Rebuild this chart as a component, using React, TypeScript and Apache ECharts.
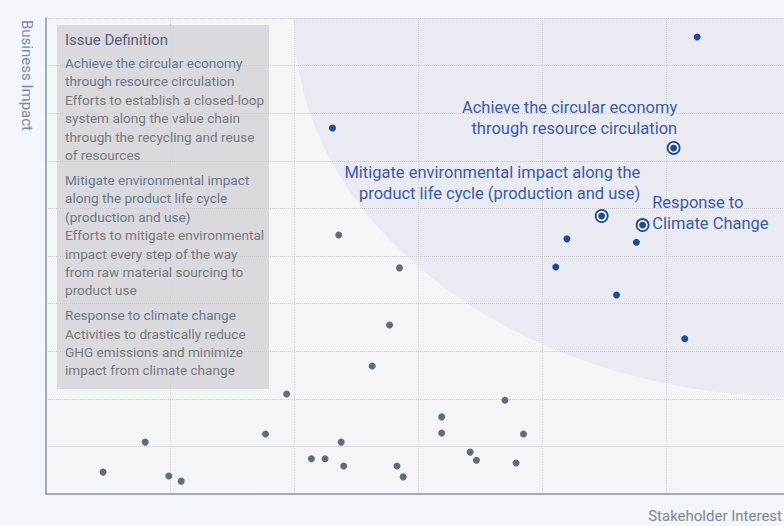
import React, { useEffect, useRef } from "react";
import * as echarts from "echarts";

// ---- data ----
const greyPoints: [number, number][] = [
  [2.36, 5.44], [2.85, 4.75], [2.77, 3.55], [2.63, 2.69],
  [0.46, 0.46], [0.8, 1.09], [0.99, 0.38], [1.09, 0.27],
  [1.77, 1.26], [1.94, 2.1], [2.14, 0.74], [2.25, 0.74],
  [2.38, 1.09], [2.4, 0.59], [2.83, 0.59], [2.88, 0.36],
  [3.19, 1.62], [3.19, 1.28], [3.42, 0.88], [3.47, 0.71],
  [3.7, 1.97], [3.85, 1.26], [3.79, 0.65],
];
const bluePoints: [number, number][] = [
  [5.25, 9.6], [2.31, 7.69], [4.2, 5.36], [4.76, 5.29],
  [4.11, 4.77], [4.6, 4.18], [5.15, 3.26],
];
const highlightPoints: [number, number][] = [
  [5.06, 7.27], [4.48, 5.84], [4.81, 5.65],
];
const highlightNames = [
  "Achieve the circular economy\nthrough resource circulation",
  "Mitigate environmental impact along the\nproduct life cycle (production and use)",
  "Response to\nClimate Change",
];
const xAxisName = "Stakeholder Interest";
const yAxisName = "Business Impact";
const boxTitle = "Issue Definition";
const boxGroups: { heading: string[]; body: string[] }[] = [
  {
    heading: ["Achieve the circular economy", "through resource circulation"],
    body: [
      "Efforts to establish a closed-loop",
      "system along the value chain",
      "through the recycling and reuse",
      "of resources",
    ],
  },
  {
    heading: ["Mitigate environmental impact", "along the product life cycle", "(production and use)"],
    body: [
      "Efforts to mitigate environmental",
      "impact every step of the way",
      "from raw material sourcing to",
      "product use",
    ],
  },
  {
    heading: ["Response to climate change"],
    body: [
      "Activities to drastically reduce",
      "GHG emissions and minimize",
      "impact from climate change",
    ],
  },
];

const BLUE = "#1e4b97";
const GREY = "#5c6e7d";
const LABEL_BLUE = "#3b5da5";
const FONT = "Roboto, 'Noto Sans', sans-serif";
const PAGE_BG = "#f2f5fa";

const labelCfg = [
  { position: [10.5, -2.5], align: "right", verticalAlign: "bottom" },
  { position: [45.5, -5.5], align: "right", verticalAlign: "bottom" },
  { position: [16.5, -5], align: "left", verticalAlign: "middle" },
];

export default function App() {
  const ref = useRef<HTMLDivElement>(null);
  useEffect(() => {
    if (!ref.current) return;
    const chart = echarts.init(ref.current, undefined, { renderer: "svg" });

    const boxTexts: any[] = [];
    boxTexts.push({
      type: "text",
      x: 65,
      y: 40,
      z: 6,
      style: { text: boxTitle, fill: "#5b5e7a", font: `15px ${FONT}`, verticalAlign: "middle" },
    });
    let y = 63;
    boxGroups.forEach((g, gi) => {
      if (gi > 0) y += 6.5;
      g.heading.forEach((t) => {
        boxTexts.push({
          type: "text", x: 65, y, z: 6,
          style: { text: t, fill: "#687a8e", font: `13.6px ${FONT}`, verticalAlign: "middle" },
        });
        y += 18.4;
      });
      g.body.forEach((t) => {
        boxTexts.push({
          type: "text", x: 65, y, z: 6,
          style: { text: t, fill: "#7a7a7c", font: `13.6px ${FONT}`, verticalAlign: "middle" },
        });
        y += 18.4;
      });
    });

    chart.setOption({
      animation: false,
      backgroundColor: PAGE_BG,
      textStyle: { fontFamily: FONT },
      grid: { left: 46, top: 18, bottom: 32, right: 0, containLabel: false },
      xAxis: {
        type: "value", min: 0, max: 5.95, interval: 1, z: 2,
        axisLine: { show: true, lineStyle: { color: "#8796a4", width: 1.5 } },
        axisTick: { show: false }, axisLabel: { show: false },
        splitLine: { show: true, lineStyle: { color: "#cfd0d6", type: "dotted", width: 1 } },
      },
      yAxis: {
        type: "value", min: 0, max: 10, interval: 1, z: 2,
        axisLine: { show: true, lineStyle: { color: "#8796a4", width: 1.5 } },
        axisTick: { show: false }, axisLabel: { show: false },
        splitLine: { show: true, lineStyle: { color: "#c9cad0", type: "dotted", width: 1 } },
      },
      graphic: [
        { type: "rect", z: 0, shape: { x: 46, y: 18, width: 740, height: 476 }, style: { fill: "#f4f5f7" } },
        { type: "ellipse", z: 0, shape: { cx: 800, cy: 18, rx: 506, ry: 379 }, style: { fill: "#e9eaf2" } },
        { type: "rect", z: 0, shape: { x: 0, y: 0, width: 784, height: 18 }, style: { fill: PAGE_BG } },
        { type: "rect", z: 0, shape: { x: 57, y: 25, width: 212, height: 364 }, style: { fill: "#d9d9de" } },
        ...boxTexts,
        {
          type: "text", x: 27, y: 20, rotation: -Math.PI / 2, z: 6,
          style: { text: yAxisName, fill: "#7d8ba0", font: `15px ${FONT}`, align: "left", verticalAlign: "middle" },
        },
        {
          type: "text", x: 782, y: 516, z: 6,
          style: { text: xAxisName, fill: "#7d8893", font: `15px ${FONT}`, align: "right", verticalAlign: "middle" },
        },
      ],
      series: [
        {
          type: "scatter", z: 3, symbolSize: 7, data: greyPoints,
          itemStyle: { color: GREY, opacity: 1 },
        },
        {
          type: "scatter", z: 3, symbolSize: 7, data: bluePoints,
          itemStyle: { color: BLUE, opacity: 1 },
        },
        {
          type: "scatter", z: 4, symbolSize: 12,
          itemStyle: { color: "#ffffff", borderColor: BLUE, borderWidth: 1.8, opacity: 1 },
          data: highlightPoints.map((p, i) => ({
            value: p,
            label: {
              show: true,
              formatter: highlightNames[i],
              position: labelCfg[i].position,
              align: labelCfg[i].align,
              verticalAlign: labelCfg[i].verticalAlign,
              color: LABEL_BLUE,
              fontSize: 16.5,
              lineHeight: 21,
              fontFamily: FONT,
            },
          })),
        },
        {
          type: "scatter", z: 5, symbolSize: 7, data: highlightPoints,
          itemStyle: { color: BLUE, opacity: 1 },
        },
      ],
    });
    return () => chart.dispose();
  }, []);
  return (
    <div
      ref={ref}
      style={{ position: "fixed", left: 0, top: 0, width: 784, height: 526 }}
    />
  );
}
